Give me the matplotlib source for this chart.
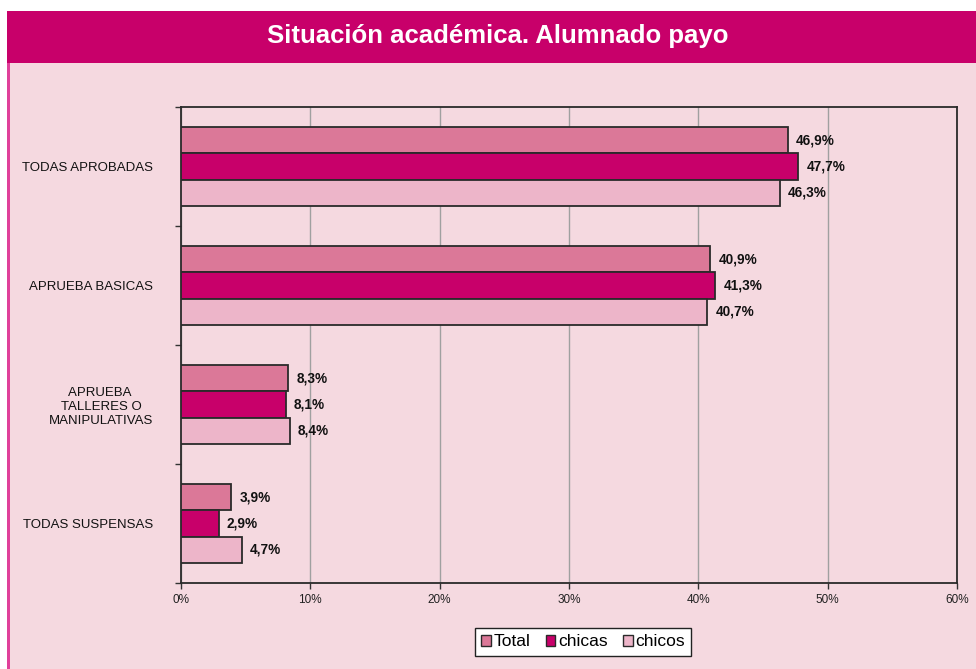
import matplotlib
matplotlib.use("Agg")
import matplotlib.pyplot as plt
import numpy as np
from matplotlib.patches import Rectangle, Patch
from matplotlib.transforms import ScaledTranslation

categories = ["TODAS APROBADAS", "APRUEBA BASICAS", "APRUEBA \nTALLERES O\nMANIPULATIVAS", "TODAS SUSPENSAS"]
series_names = ["Total", "chicas", "chicos"]
total = [46.9, 40.9, 8.3, 3.9]
chicas = [47.7, 41.3, 8.1, 2.9]
chicos = [46.3, 40.7, 8.4, 4.7]
xticks = [0, 10, 20, 30, 40, 50, 60]
xtick_labels = ["0%", "10%", "20%", "30%", "40%", "50%", "60%"]
title = "Situación académica. Alumnado payo"

colors = ["#DB7898", "#C8006A", "#EDB5C9"]
bg = "#F5D9E0"
magenta = "#C8006A"

plt.rcParams['font.family'] = ['Liberation Sans', 'DejaVu Sans']

W, H = 976, 669
fig = plt.figure(figsize=(W / 100, H / 100), dpi=100)
fig.patch.set_facecolor("white")

# background panel, header, left border
fig.add_artist(Rectangle((7 / W, 0), 1 - 7 / W, 1 - 63 / H, transform=fig.transFigure,
                         facecolor=bg, edgecolor="none", zorder=-3))
fig.add_artist(Rectangle((7 / W, 1 - 63 / H), 1 - 7 / W, 52 / H, transform=fig.transFigure,
                         facecolor=magenta, edgecolor="none", zorder=-2))
fig.add_artist(Rectangle((7 / W, 0), 2.5 / W, 1 - 63 / H, transform=fig.transFigure,
                         facecolor="#E0409A", edgecolor="none", zorder=-1))
fig.text(498 / W, 1 - 36 / H, title, color="white", fontsize=18.5, fontweight="bold",
         ha="center", va="center")

ax = fig.add_axes([181 / W, 1 - 583 / H, (957 - 181) / W, (583 - 107) / H])
ax.set_facecolor(bg)

y = np.arange(len(categories))
h = 0.22
offsets = [-h, 0, h]
for vals, off, col, name in zip([total, chicas, chicos], offsets, colors, series_names):
    bars = ax.barh(y + off, vals, height=h, color=col, edgecolor="#2a2a2a", linewidth=1.3,
                   label=name, zorder=3)
    for b, v in zip(bars, vals):
        ax.annotate(f"{v:.1f}%".replace(".", ","), (v, b.get_y() + b.get_height() / 2),
                    xytext=(6, 0), textcoords="offset points", ha="left", va="center",
                    fontsize=9.8, fontweight="bold", color="#111111", zorder=4)

ax.set_xlim(0, 60)
ax.set_ylim(len(categories) - 0.5, -0.5)
ax.set_xticks(xticks)
ax.set_xticklabels(xtick_labels, fontsize=8.5, color="#222222")
shifts = [8, 8, 6, 5, 4, 2, 0]
for lab, s in zip(ax.get_xticklabels(), shifts):
    lab.set_transform(lab.get_transform() + ScaledTranslation(s / 100, 0, fig.dpi_scale_trans))
ax.set_yticks(y)
ax.set_yticklabels(categories, fontsize=9.5, color="#111111", multialignment="center")
ax.set_yticks(np.arange(-0.5, len(categories)), minor=True)
ax.tick_params(axis="y", which="major", length=0, pad=20)
ax.tick_params(axis="y", which="minor", length=4, width=1, color="#333333", direction="out")
ax.tick_params(axis="x", length=4, width=1, color="#333333", direction="out", pad=4)
ax.grid(axis="x", color="#A0A0A0", linewidth=1, zorder=0)
for s in ax.spines.values():
    s.set_color("#2a2a2a")
    s.set_linewidth(1.3)

handles = [Patch(facecolor=c, edgecolor="#2a2a2a", linewidth=1, label=n)
           for c, n in zip(colors, series_names)]
leg = fig.legend(handles=handles, loc="center", bbox_to_anchor=(583 / W, 1 - 642 / H),
                 ncol=3, fontsize=12.5, frameon=True, fancybox=False, edgecolor="#222222",
                 facecolor="white", framealpha=1, handlelength=0.55, handleheight=0.55,
                 handletextpad=0.15, columnspacing=0.9, borderpad=0.35, borderaxespad=0)
leg.get_frame().set_linewidth(1)

fig.savefig("out.png", dpi=100, facecolor=fig.get_facecolor())
